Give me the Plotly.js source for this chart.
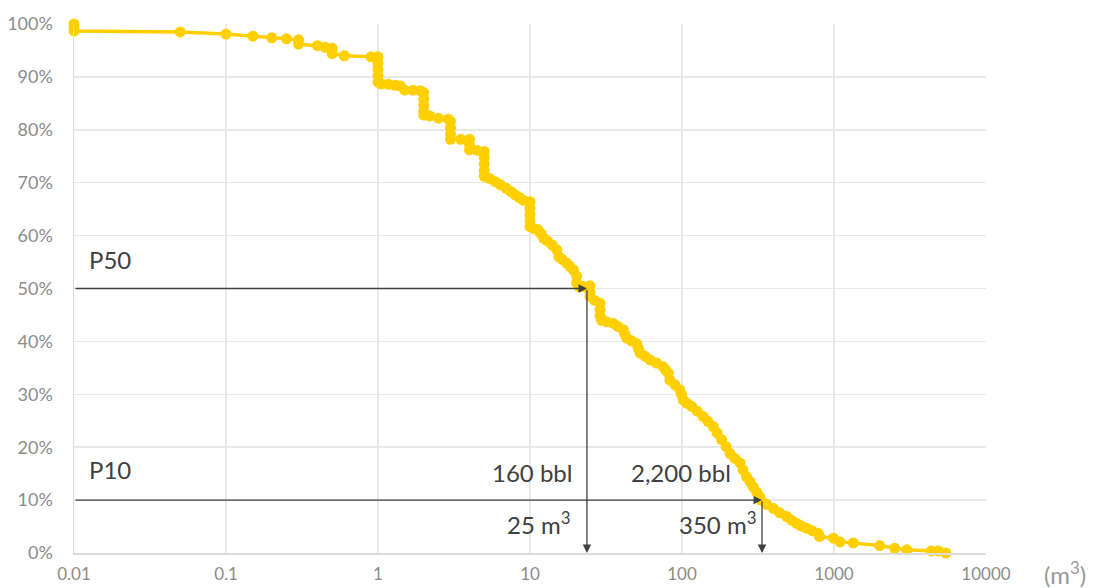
<!DOCTYPE html>
<html>
<head>
<meta charset="utf-8">
<script src="https://cdn.plot.ly/plotly-3.0.1.min.js"></script>
<style>html,body{margin:0;padding:0;background:#fff;}#chart{width:1096px;height:588px;}</style>
</head>
<body>
<div id="chart"></div>
<script>
// Volume (m3) and exceedance probability (%)
const volumes = [0.01,0.01,0.01,0.05,0.1,0.15,0.2,0.25,0.3,0.3,0.4,0.45,0.5,0.5,0.6,0.9,
  1,1,1,1,1,1.05,1.17,1.3,1.4,1.5,1.7,1.9,
  2,2,2,2,2,2.2,2.5,2.9,
  3,3,3,3,3.5,4,4,4,4.5,5,5,5,5,5,5.4,5.9,6.4,7,7.5,8,8.5,9,
  10,10,10,10,10,10.6,11.3,11.8,12.3,13,14,15,15.5,16.3,17.4,18.3,19.3,20.3,20.3,21,22.5,
  24.8,24.8,24.8,26.5,28.9,28.9,28.9,29.5,32,35.3,38,41,42,43.3,46.5,50.3,51.5,53,57,61.6,68,75.4,78,81.3,83.2,90,97,99.5,
  101.9,108,115.8,126,138,148,160.6,170,182.4,195,207,222,241,252,266,280,294,310,325,330,
  360,400,440,488,525,568,610,660,720,789,803,990,1096,1340,2000,2510,3020,4365,4860,5440];
const exceedance = [100,99.3,98.7,98.5,98.1,97.7,97.4,97.2,97.0,96.2,95.9,95.6,95.4,94.4,94.0,93.8,
  93.8,92.6,91.4,90.2,89.0,88.7,88.6,88.4,88.3,87.5,87.5,87.4,
  87.0,85.8,84.6,83.4,82.8,82.6,82.2,82.0,
  81.6,80.4,79.2,78.2,78.2,78.2,77.2,76.2,76.1,75.9,74.7,73.5,72.3,71.2,70.8,70.2,69.6,68.9,68.3,67.7,67.2,66.7,
  66.4,65.2,64.0,62.8,61.7,61.3,61.1,60.4,59.5,59.0,58.2,57.3,56.0,55.5,54.8,54.2,53.5,52.3,51.0,50.4,50.4,
  50.5,49.3,48.5,47.8,47.2,46.0,44.8,44.0,43.7,43.4,42.8,42.2,41.4,40.6,40.1,39.6,38.7,37.8,37.2,36.5,35.9,35.2,34.6,34.0,32.7,31.8,30.8,29.9,
  28.9,28.3,27.7,26.8,25.8,24.9,23.9,22.7,21.4,20.1,18.8,17.9,17.0,15.7,14.4,13.5,12.5,11.5,10.6,10.0,
  9.2,8.4,7.6,6.9,6.2,5.6,5.1,4.7,4.2,3.7,3.1,2.8,2.1,1.9,1.4,0.9,0.6,0.4,0.4,0.0];

const xTickVals = [0.01,0.1,1,10,100,1000,10000];
const xTickText = ['0.01','0.1','1','10','100','1000','10000'];
const yTickVals = [0,10,20,30,40,50,60,70,80,90,100];
const yTickText = ['0%','10%','20%','30%','40%','50%','60%','70%','80%','90%','100%'];

const p50Level = 50, p50Volume = 23.7;
const p10Level = 10, p10Volume = 336;
const p50Label = 'P50', p10Label = 'P10';
const p50Bbl = '160 bbl', p10Bbl = '2,200 bbl';
const p50M3 = '25 m<sup>3</sup>', p10M3 = '350 m<sup>3</sup>';

const lg = Math.log10;
const arrowColor = '#404040';
const textFont = {family:'Lato, "Open Sans", sans-serif', size:24, color:'#404040'};

function arrow(x0,y0,x1,y1){
  return {x:lg(x1), y:y1, ax:lg(x0), ay:y0, xref:'x', yref:'y', axref:'x', ayref:'y',
    text:'', showarrow:true, arrowhead:2, arrowsize:1.3, arrowwidth:1.3, arrowcolor:arrowColor, standoff:0, startstandoff:0};
}

const trace = {
  x: volumes, y: exceedance, type:'scatter', mode:'lines+markers',
  line:{color:'#FFCF00', width:3.5},
  marker:{color:'#FFCF00', size:11},
  cliponaxis:false, hoverinfo:'skip'
};

const layout = {
  width:1096, height:588,
  margin:{l:74, r:110, t:24, b:35},
  paper_bgcolor:'#fff', plot_bgcolor:'#fff',
  showlegend:false,
  font:{family:'Lato, "Open Sans", sans-serif', color:'#8c8c8c'},
  xaxis:{type:'log', range:[-2,4], tickvals:xTickVals, ticktext:xTickText,
    showgrid:true, gridcolor:'#e8e8e8', gridwidth:1.5, zeroline:false,
    showline:true, linecolor:'#dcdcdc', linewidth:1.5, mirror:false,
    ticks:'', ticklabelstandoff:5, tickfont:{size:17, color:'#8c8c8c'}},
  yaxis:{range:[0,100], tickvals:yTickVals, ticktext:yTickText,
    showgrid:true, gridcolor:'#e8e8e8', gridwidth:1.5, zeroline:false,
    showline:true, linecolor:'#dcdcdc', linewidth:1.5,
    ticks:'', ticklabelstandoff:16, tickfont:{size:18, color:'#8c8c8c'}},
  annotations:[
    arrow(0.01,p50Level,p50Volume,p50Level),
    arrow(p50Volume,p50Level,p50Volume,0),
    arrow(0.01,p10Level,p10Volume,p10Level),
    arrow(p10Volume,p10Level,p10Volume,0),
    {xref:'paper', yref:'y', x:0.014, y:55.5, xanchor:'left', yanchor:'middle', text:p50Label, showarrow:false, font:textFont},
    {xref:'paper', yref:'y', x:0.014, y:15.7, xanchor:'left', yanchor:'middle', text:p10Label, showarrow:false, font:textFont},
    {xref:'paper', yref:'y', x:0.548, y:15.2, xanchor:'right', yanchor:'middle', text:p50Bbl, showarrow:false, font:textFont},
    {xref:'paper', yref:'y', x:0.723, y:15.2, xanchor:'right', yanchor:'middle', text:p10Bbl, showarrow:false, font:textFont},
    {xref:'paper', yref:'y', x:0.546, y:5.6, xanchor:'right', yanchor:'middle', text:p50M3, showarrow:false, font:textFont},
    {xref:'paper', yref:'y', x:0.75, y:5.6, xanchor:'right', yanchor:'middle', text:p10M3, showarrow:false, font:textFont},
    {xref:'paper', yref:'paper', x:1.0866, y:-0.038, xanchor:'center', yanchor:'middle', text:'(m<sup>3</sup>)', showarrow:false,
      font:{family:'Lato, "Open Sans", sans-serif', size:24, color:'#999999'}}
  ]
};

Plotly.newPlot('chart', [trace], layout, {staticPlot:true, displayModeBar:false});
</script>
</body>
</html>
